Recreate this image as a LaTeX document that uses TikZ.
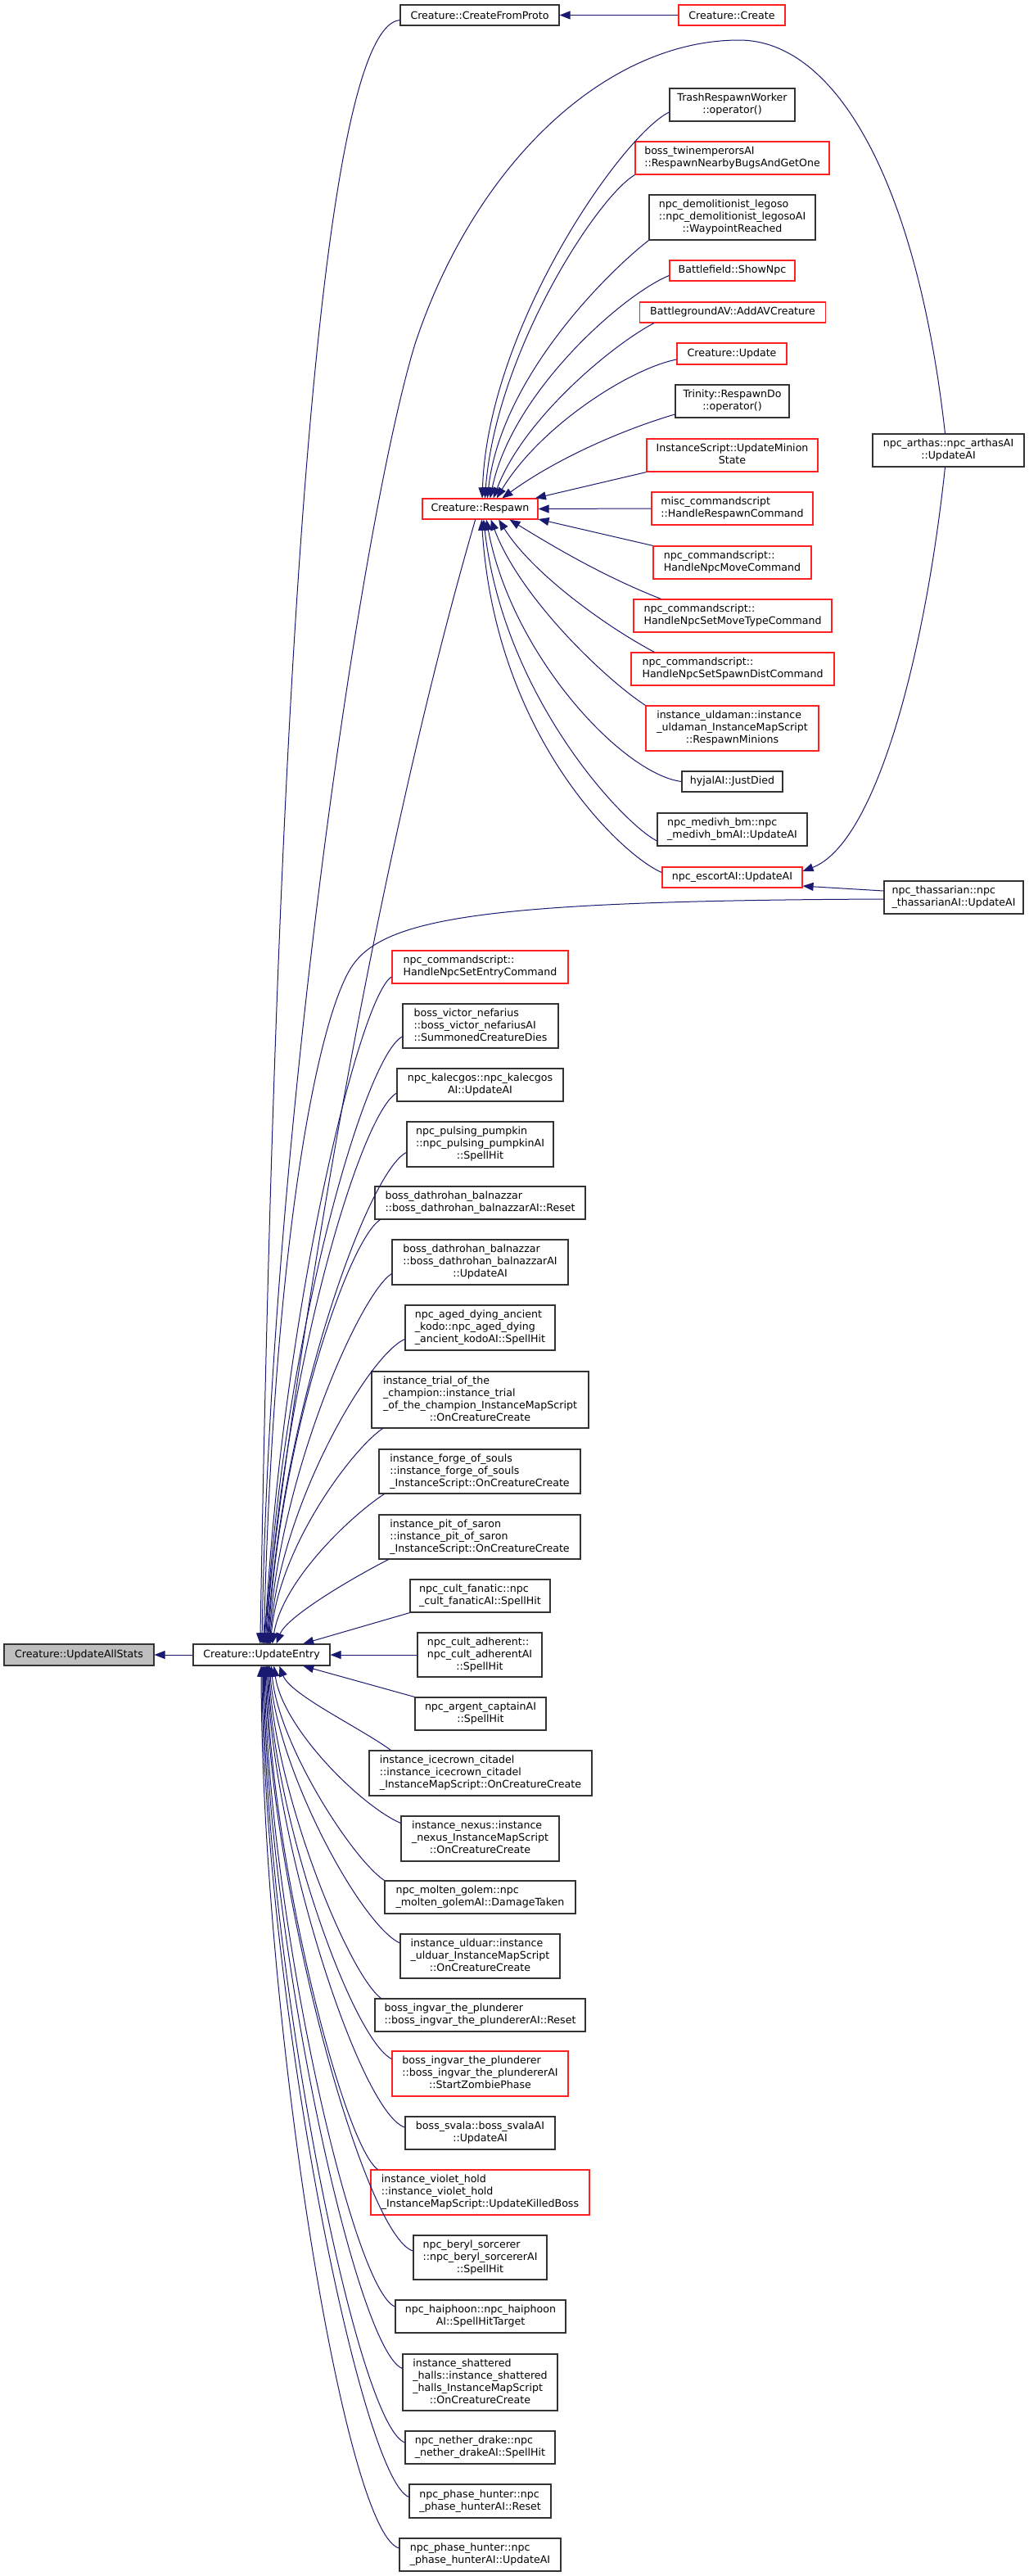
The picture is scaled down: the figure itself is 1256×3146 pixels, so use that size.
\documentclass[tikz,border=0pt]{standalone}
\usepackage{fontspec}
\setmainfont{DejaVu Sans}
\usetikzlibrary{arrows.meta}
\definecolor{edgec}{HTML}{191970}
\definecolor{boxc}{HTML}{333333}
\definecolor{redc}{HTML}{FF2020}
\definecolor{grayf}{HTML}{BFBFBF}
\newcommand\nlab[2]{\begin{tabular}{@{}l@{}}#1\multicolumn{1}{@{}c@{}}{#2}\end{tabular}}
\begin{document}
\begin{tikzpicture}[x=1pt,y=1pt,
  box/.style={draw=boxc,line width=1.2pt,fill=white,inner sep=0pt,rectangle,font=\fontsize{12.6}{15}\selectfont},
  rbox/.style={box,draw=redc},
  sz/.style 2 args={minimum width=#1pt,minimum height=#2pt},
  edge/.style={draw=edgec,line width=1pt,-{Triangle[length=13pt,width=10pt]}}]
\useasboundingbox[fill=white] (0,0) rectangle (1256,-3146);

% main nodes
\node[box,sz={183}{26},fill=grayf] (allstats) at (96.5,-2021) {Creature::UpdateAllStats};
\node[box,sz={167}{26}] (entry) at (319.5,-2021) {Creature::UpdateEntry};
\node[box,sz={194}{25}] (cfp) at (586,-18.5) {Creature::CreateFromProto};
\node[rbox,sz={130}{25}] (create) at (894,-18.5) {Creature::Create};
\node[rbox,sz={141}{25}] (resp) at (586.5,-621.5) {Creature::Respawn};
\node[box,sz={185}{40}] (arthas) at (1158.5,-550) {\nlab{npc\_arthas::npc\_arthasAI\\}{::UpdateAI}};
\node[box,sz={170}{40}] (thass) at (1165,-1096) {\nlab{npc\_thassarian::npc\\}{\_thassarianAI::UpdateAI}};
\node[rbox,sz={171}{25}] (escort) at (894.5,-1071.5) {npc\_escortAI::UpdateAI};

% callers of Respawn
\node[box,sz={153}{40}] (trash) at (894.5,-128) {\nlab{TrashRespawnWorker\\}{::operator()}};
\node[rbox,sz={237}{40}] (twin) at (894.5,-193) {\nlab{boss\_twinemperorsAI\\}{::RespawnNearbyBugsAndGetOne}};
\node[box,sz={203}{55}] (demol) at (894.5,-265.5) {\nlab{npc\_demolitionist\_legoso\\::npc\_demolitionist\_legosoAI\\}{::WaypointReached}};
\node[rbox,sz={153}{25}] (shownpc) at (894.5,-330.5) {Battlefield::ShowNpc};
\node[rbox,sz={227}{25}] (addav) at (895,-381.5) {BattlegroundAV::AddAVCreature};
\node[rbox,sz={134}{26}] (cupdate) at (894,-432) {Creature::Update};
\node[box,sz={139}{40}] (respdo) at (894.5,-490) {\nlab{Trinity::RespawnDo\\}{::operator()}};
\node[rbox,sz={209}{40}] (minion) at (894.5,-556) {\nlab{InstanceScript::UpdateMinion\\}{State}};
\node[rbox,sz={197}{40}] (misc) at (894.5,-621) {\nlab{misc\_commandscript\\}{::HandleRespawnCommand}};
\node[rbox,sz={193}{40}] (npcmove) at (894.5,-687) {\nlab{npc\_commandscript::\\}{HandleNpcMoveCommand}};
\node[rbox,sz={242}{40}] (movetype) at (895,-752) {\nlab{npc\_commandscript::\\}{HandleNpcSetMoveTypeCommand}};
\node[rbox,sz={248}{40}] (spawndist) at (895,-817) {\nlab{npc\_commandscript::\\}{HandleNpcSetSpawnDistCommand}};
\node[rbox,sz={211}{55}] (uldaman) at (894.5,-889.5) {\nlab{instance\_uldaman::instance\\\_uldaman\_InstanceMapScript\\}{::RespawnMinions}};
\node[box,sz={123}{25}] (hyjal) at (894.5,-954.5) {hyjalAI::JustDied};
\node[box,sz={183}{40}] (medivh) at (894.5,-1013) {\nlab{npc\_medivh\_bm::npc\\}{\_medivh\_bmAI::UpdateAI}};

% callers of UpdateEntry
\node[rbox,sz={215}{40}] (setentry) at (586.5,-1181) {\nlab{npc\_commandscript::\\}{HandleNpcSetEntryCommand}};
\node[box,sz={190}{54}] (victor) at (587,-1253) {\nlab{boss\_victor\_nefarius\\::boss\_victor\_nefariusAI\\}{::SummonedCreatureDies}};
\node[box,sz={203}{40}] (kalec) at (586.5,-1325) {\nlab{npc\_kalecgos::npc\_kalecgos\\}{AI::UpdateAI}};
\node[box,sz={179}{55}] (pumpkin) at (586.5,-1397.5) {\nlab{npc\_pulsing\_pumpkin\\::npc\_pulsing\_pumpkinAI\\}{::SpellHit}};
\node[box,sz={257}{40}] (dathR) at (586.5,-1469) {\nlab{boss\_dathrohan\_balnazzar\\}{::boss\_dathrohan\_balnazzarAI::Reset}};
\node[box,sz={215}{55}] (dathU) at (586.5,-1541.5) {\nlab{boss\_dathrohan\_balnazzar\\::boss\_dathrohan\_balnazzarAI\\}{::UpdateAI}};
\node[box,sz={183}{55}] (aged) at (586.5,-1621.5) {\nlab{npc\_aged\_dying\_ancient\\\_kodo::npc\_aged\_dying\\}{\_ancient\_kodoAI::SpellHit}};
\node[box,sz={265}{69}] (trial) at (586.5,-1709.5) {\nlab{instance\_trial\_of\_the\\\_champion::instance\_trial\\\_of\_the\_champion\_InstanceMapScript\\}{::OnCreatureCreate}};
\node[box,sz={246}{54}] (forge) at (586,-1797) {\nlab{instance\_forge\_of\_souls\\::instance\_forge\_of\_souls\\}{\_InstanceScript::OnCreatureCreate}};
\node[box,sz={246}{54}] (pit) at (586,-1877) {\nlab{instance\_pit\_of\_saron\\::instance\_pit\_of\_saron\\}{\_InstanceScript::OnCreatureCreate}};
\node[box,sz={171}{40}] (fanatic) at (586.5,-1949) {\nlab{npc\_cult\_fanatic::npc\\}{\_cult\_fanaticAI::SpellHit}};
\node[box,sz={152}{54}] (adherent) at (586,-2021) {\nlab{npc\_cult\_adherent::\\npc\_cult\_adherentAI\\}{::SpellHit}};
\node[box,sz={160}{40}] (argent) at (587,-2093) {\nlab{npc\_argent\_captainAI\\}{::SpellHit}};
\node[box,sz={272}{55}] (icecrown) at (587,-2165.5) {\nlab{instance\_icecrown\_citadel\\::instance\_icecrown\_citadel\\}{\_InstanceMapScript::OnCreatureCreate}};
\node[box,sz={193}{55}] (nexus) at (586.5,-2245.5) {\nlab{instance\_nexus::instance\\\_nexus\_InstanceMapScript\\}{::OnCreatureCreate}};
\node[box,sz={233}{40}] (molten) at (586.5,-2317) {\nlab{npc\_molten\_golem::npc\\}{\_molten\_golemAI::DamageTaken}};
\node[box,sz={195}{54}] (ulduar) at (586.5,-2389) {\nlab{instance\_ulduar::instance\\\_ulduar\_InstanceMapScript\\}{::OnCreatureCreate}};
\node[box,sz={257}{40}] (ingvarR) at (586.5,-2461) {\nlab{boss\_ingvar\_the\_plunderer\\}{::boss\_ingvar\_the\_plundererAI::Reset}};
\node[rbox,sz={215}{55}] (ingvarZ) at (586.5,-2532.5) {\nlab{boss\_ingvar\_the\_plunderer\\::boss\_ingvar\_the\_plundererAI\\}{::StartZombiePhase}};
\node[box,sz={183}{40}] (svala) at (586.5,-2605) {\nlab{boss\_svala::boss\_svalaAI\\}{::UpdateAI}};
\node[rbox,sz={267}{55}] (violet) at (586.5,-2677.5) {\nlab{instance\_violet\_hold\\::instance\_violet\_hold\\}{\_InstanceMapScript::UpdateKilledBoss}};
\node[box,sz={163}{54}] (beryl) at (586.5,-2757) {\nlab{npc\_beryl\_sorcerer\\::npc\_beryl\_sorcererAI\\}{::SpellHit}};
\node[box,sz={208}{40}] (haiphoon) at (587,-2829) {\nlab{npc\_haiphoon::npc\_haiphoon\\}{AI::SpellHitTarget}};
\node[box,sz={189}{69}] (shattered) at (586.5,-2909.5) {\nlab{instance\_shattered\\\_halls::instance\_shattered\\\_halls\_InstanceMapScript\\}{::OnCreatureCreate}};
\node[box,sz={183}{40}] (nether) at (586.5,-2989) {\nlab{npc\_nether\_drake::npc\\}{\_nether\_drakeAI::SpellHit}};
\node[box,sz={173}{41}] (phaseR) at (586.5,-3054.5) {\nlab{npc\_phase\_hunter::npc\\}{\_phase\_hunterAI::Reset}};
\node[box,sz={197}{40}] (phaseU) at (586.5,-3120) {\nlab{npc\_phase\_hunter::npc\\}{\_phase\_hunterAI::UpdateAI}};

% simple edges
\draw[edge] (create.west) -- (cfp.east);
\draw[edge] (entry.west) -- (allstats.east);

% long edges into UpdateEntry
\draw[edge] ([yshift=-6pt]cfp.west) .. controls (380,-35) and (335,-1000) .. (entry.97);
\draw[edge] ([xshift=-4pt]arthas.north) .. controls (1120,-220) and (1020,-49) .. (903,-49)
   .. controls (740,-49) and (580,-200) .. (507,-420)
   .. controls (440,-640) and (330,-1400) .. (entry.88);
\draw[edge] (resp.-114) .. controls (480,-980) and (380,-1500) .. (entry.83);
\draw[edge] ([yshift=-2pt]thass.west) .. controls (600,-1100) and (470,-1120) .. (430,-1180)
   .. controls (390,-1240) and (335,-1500) .. (entry.79);
\draw[edge] ([yshift=8pt]thass.west) -- (escort.-7);
\draw[edge] ([xshift=-4pt]arthas.south) .. controls (1130,-800) and (1070,-1030) .. (escort.5);

% callers of Respawn
\draw[edge] ([yshift=-9pt]trash.west) .. controls (760,-165) and (596,-400) .. (resp.79);
\draw[edge] (twin.south west) .. controls (730,-240) and (606,-430) .. (resp.66);
\draw[edge] (demol.south west) .. controls (745,-330) and (612,-460) .. (resp.56);
\draw[edge] ([yshift=-6pt]shownpc.west) .. controls (760,-360) and (625,-480) .. (resp.47);
\draw[edge] ([xshift=18pt]addav.south west) .. controls (750,-420) and (640,-510) .. (resp.39);
\draw[edge] ([yshift=-7pt]cupdate.west) .. controls (770,-450) and (660,-520) .. (resp.33);
\draw[edge] ([yshift=-16pt]respdo.west) .. controls (760,-525) and (680,-560) .. (resp.26);
\draw[edge] (minion.south west) -- (resp.11);
\draw[edge] (misc.west) -- (resp.east);
\draw[edge] (npcmove.north west) -- (resp.-10);
\draw[edge] ([xshift=34pt]movetype.north west) .. controls (740,-705) and (680,-670) .. (resp.-20);
\draw[edge] ([xshift=29pt]spawndist.north west) .. controls (740,-765) and (650,-700) .. (resp.-30);
\draw[edge] (uldaman.north west) .. controls (740,-830) and (635,-730) .. (resp.-45);
\draw[edge] (hyjal.west) .. controls (760,-945) and (625,-800) .. (resp.-60);
\draw[edge] ([yshift=-14pt]medivh.west) .. controls (760,-1005) and (615,-850) .. (resp.-72);
\draw[edge] ([yshift=6pt]escort.west) .. controls (760,-1045) and (605,-900) .. (resp.-82);

% callers of UpdateEntry above it
\draw[edge] ([yshift=-12pt]setentry.west) .. controls (440,-1215) and (345,-1600) .. (entry.75);
\draw[edge] ([yshift=-13pt]victor.west) .. controls (445,-1290) and (345,-1640) .. (entry.71);
\draw[edge] ([yshift=-10pt]kalec.west) .. controls (440,-1360) and (345,-1680) .. (entry.67);
\draw[edge] ([yshift=-10pt]pumpkin.west) .. controls (450,-1430) and (345,-1720) .. (entry.63);
\draw[edge] ([xshift=7pt]dathR.south west) .. controls (425,-1515) and (342,-1760) .. (entry.60);
\draw[edge] ([yshift=-14pt]dathU.west) .. controls (440,-1580) and (342,-1800) .. (entry.57);
\draw[edge] ([yshift=-14pt]aged.west) .. controls (450,-1655) and (342,-1840) .. (entry.54);
\draw[edge] ([xshift=14pt]trial.south west) .. controls (430,-1770) and (340,-1890) .. (entry.51);
\draw[edge] ([xshift=7pt]forge.south west) .. controls (430,-1850) and (345,-1930) .. (entry.46);
\draw[edge] ([xshift=12pt]pit.south west) .. controls (425,-1930) and (350,-1975) .. (entry.37);
\draw[edge] (fanatic.south west) -- (entry.15);

% callers of UpdateEntry at and below it
\draw[edge] (adherent.west) -- (entry.east);
\draw[edge] (argent.north west) -- (entry.-15);
\draw[edge] ([xshift=27pt]icecrown.north west) .. controls (440,-2110) and (355,-2070) .. (entry.-32);
\draw[edge] ([yshift=19pt]nexus.west) .. controls (440,-2205) and (345,-2110) .. (entry.-42);
\draw[edge] (molten.north west) .. controls (430,-2270) and (340,-2130) .. (entry.-49);
\draw[edge] ([yshift=16pt]ulduar.west) .. controls (440,-2350) and (338,-2160) .. (entry.-54);
\draw[edge] ([xshift=8pt]ingvarR.north west) .. controls (425,-2410) and (336,-2190) .. (entry.-57);
\draw[edge] ([yshift=18pt]ingvarZ.west) .. controls (430,-2490) and (334,-2220) .. (entry.-60);
\draw[edge] ([yshift=7pt]svala.west) .. controls (440,-2580) and (333,-2250) .. (entry.-63);
\draw[edge] ([xshift=9pt]violet.north west) .. controls (420,-2620) and (332,-2280) .. (entry.-67);
\draw[edge] ([yshift=8pt]beryl.west) .. controls (445,-2730) and (330,-2310) .. (entry.-71);
\draw[edge] ([yshift=12pt]haiphoon.west) .. controls (430,-2795) and (328,-2340) .. (entry.-75);
\draw[edge] ([yshift=17pt]shattered.west) .. controls (435,-2870) and (326,-2370) .. (entry.-79);
\draw[edge] ([yshift=6pt]nether.west) .. controls (435,-2960) and (324,-2400) .. (entry.-83);
\draw[edge] ([yshift=5pt]phaseR.west) .. controls (440,-3025) and (322,-2430) .. (entry.-88);
\draw[edge] ([yshift=8pt]phaseU.west) .. controls (420,-3092) and (320,-2460) .. (entry.-92);
\end{tikzpicture}
\end{document}
